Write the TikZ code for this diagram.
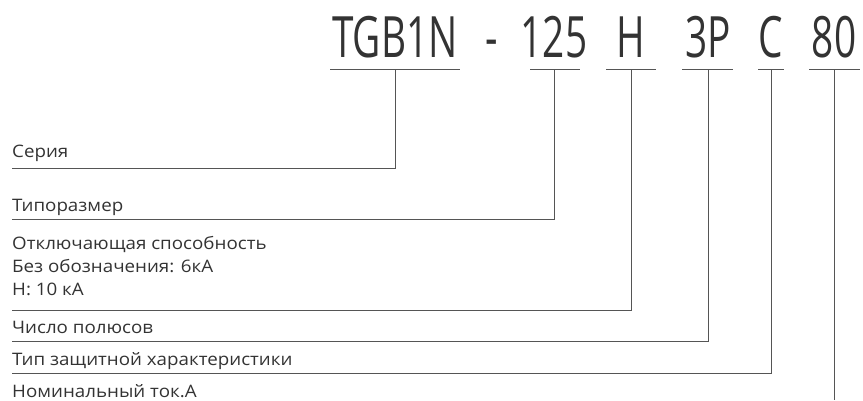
\documentclass[tikz,border=0pt]{standalone}
\usepackage{fontspec}
\setmainfont{Open Sans}
\newfontfamily\topfont[FakeStretch=0.68]{Open Sans}
\newfontfamily\labfont[FakeStretch=1.09]{Open Sans}
\definecolor{txt}{HTML}{333333}
\definecolor{ln}{HTML}{555555}
\begin{document}
\begin{tikzpicture}[x=1pt,y=-1pt,
  code/.style={font=\topfont\fontsize{57}{57}\selectfont, text=txt, inner sep=0pt, anchor=base},
  lab/.style={font=\labfont\fontsize{17.2}{20}\selectfont, text=txt, inner sep=0pt, anchor=base west},
  uline/.style={draw=ln, line width=0.9pt},
  conn/.style={draw=ln, line width=0.9pt}]
\useasboundingbox (0,0) rectangle (863,400);
% code parts
\node[code] (t1) at (395,57) {TGB1N};
\node[code] (t0) at (492,57) {-};
\node[code] (t2) at (554,57) {125};
\node[code] (t3) at (631,57) {H};
\node[code] (t4) at (708,57) {3P};
\node[code] (t5) at (771,57) {C};
\node[code] (t6) at (834,57) {80};
% underlines
\draw[uline] (330,69) -- (460,69);
\draw[uline] (530,69) -- (580,69);
\draw[uline] (606,69) -- (656,69);
\draw[uline] (682,69) -- (733,69);
\draw[uline] (758,69) -- (784,69);
\draw[uline] (809,69) -- (860,69);
\coordinate (u1) at (395,69);
\coordinate (u2) at (554,69);
\coordinate (u3) at (631,69);
\coordinate (u4) at (708,69);
\coordinate (u5) at (771,69);
\coordinate (u6) at (834,69);
% labels
\node[lab] (l1) at (12,157) {Серия};
\node[lab] (l2) at (12,211.5) {Типоразмер};
\node[lab] (l3a) at (12,249.5) {Отключающая способность};
\node[lab] (l3b) at (12,272.5) {Без обозначения: 6кА};
\node[lab] (l3c) at (12,295) {H: 10 кА};
\node[lab] (l4) at (12,333) {Число полюсов};
\node[lab] (l5) at (12,365) {Тип защитной характеристики};
\node[lab] (l6) at (12,397) {Номинальный ток.А};
% connector ends
\coordinate (e1) at (12,168.5);
\coordinate (e2) at (12,219.5);
\coordinate (e3) at (12,310.5);
\coordinate (e4) at (12,341);
\coordinate (e5) at (12,373);
\coordinate (e6) at (834,400);
\draw[conn] (e1) -| (u1);
\draw[conn] (e2) -| (u2);
\draw[conn] (e3) -| (u3);
\draw[conn] (e4) -| (u4);
\draw[conn] (e5) -| (u5);
\draw[conn] (u6) -- (e6);
\end{tikzpicture}
\end{document}
